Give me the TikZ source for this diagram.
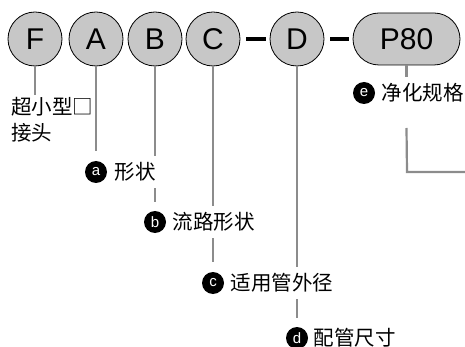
\documentclass[tikz,border=0pt]{standalone}
\usepackage{fontspec}
\setmainfont{Liberation Sans}
\newfontfamily\cjk{Noto Sans CJK SC}
\usetikzlibrary{positioning}

\begin{document}
\begin{tikzpicture}[
    x=1pt, y=-1pt,
    letter/.style={circle, draw=black, line width=0.8pt, fill=black!22,
                   minimum size=54pt, inner sep=0pt, font=\fontsize{30}{30}\selectfont},
    pill/.style={rectangle, rounded corners=26pt, draw=black, line width=0.8pt, fill=black!22,
                 minimum width=107pt, minimum height=52pt, font=\fontsize{30}{30}\selectfont},
    link/.style={line width=4pt, shorten <=6pt, shorten >=4pt},
    lead/.style={draw=black!45, line width=2.2pt},
    badge/.style={circle, fill=black, text=white, minimum size=22pt, inner sep=0pt,
                  font=\fontsize{15}{15}\selectfont},
    note/.style={fill=white, inner xsep=2.5pt, inner ysep=6pt,
                 font=\cjk\fontsize{20.5}{26}\selectfont}
]
    \useasboundingbox (0,0) rectangle (465,347);

    % === code letters ===
    \node[letter] (F) at (35,39) {F};
    \node[letter] (A) at (96,39) {A};
    \node[letter] (B) at (155,39) {B};
    \node[letter] (C) at (213,39) {C};
    \node[letter] (D) at (297,39) {D};
    \node[pill] (P80) at (406.5,39) {P80};

    \draw[link] (C) -- (D);
    \draw[link] (D) -- (P80);

    % === explanations ===
    \node[note, anchor=north west, align=left, inner xsep=0pt, inner ysep=2pt] (tf) at (11,95) {超小型□\\接头};

    \node[badge] (ma) at (96,172) {a};
    \node[badge] (mb) at (155,222) {b};
    \node[badge] (mc) at (213,283) {c};
    \node[badge] (md) at (297,338) {d};
    \node[badge] (me) at (364,93) {e};

    \draw[lead] (F) -- (F |- tf.north);
    \draw[lead, shorten >=10pt] (A) -- (ma);
    \draw[lead, shorten >=9pt] (B) -- (mb);
    \draw[lead, shorten >=10pt] (C) -- (mc);
    \draw[lead, shorten >=9pt] (D) -- (md);

    \coordinate (ebend) at (407,172);
    \coordinate (eend) at (465,172);
    \draw[lead] (P80) -- (P80 |- 0,77);
    \draw[lead] (P80 |- 0,128) -- (ebend) -- (eend);

    \node[note, right=5pt of ma] (ta) {形状};
    \node[note, right=4pt of mb] (tb) {流路形状};
    \node[note, right=4pt of mc] (tc) {适用管外径};
    \node[note, right=3pt of md] (td) {配管尺寸};
    \node[note, right=4pt of me] (te) {净化规格};

\end{tikzpicture}
\end{document}
